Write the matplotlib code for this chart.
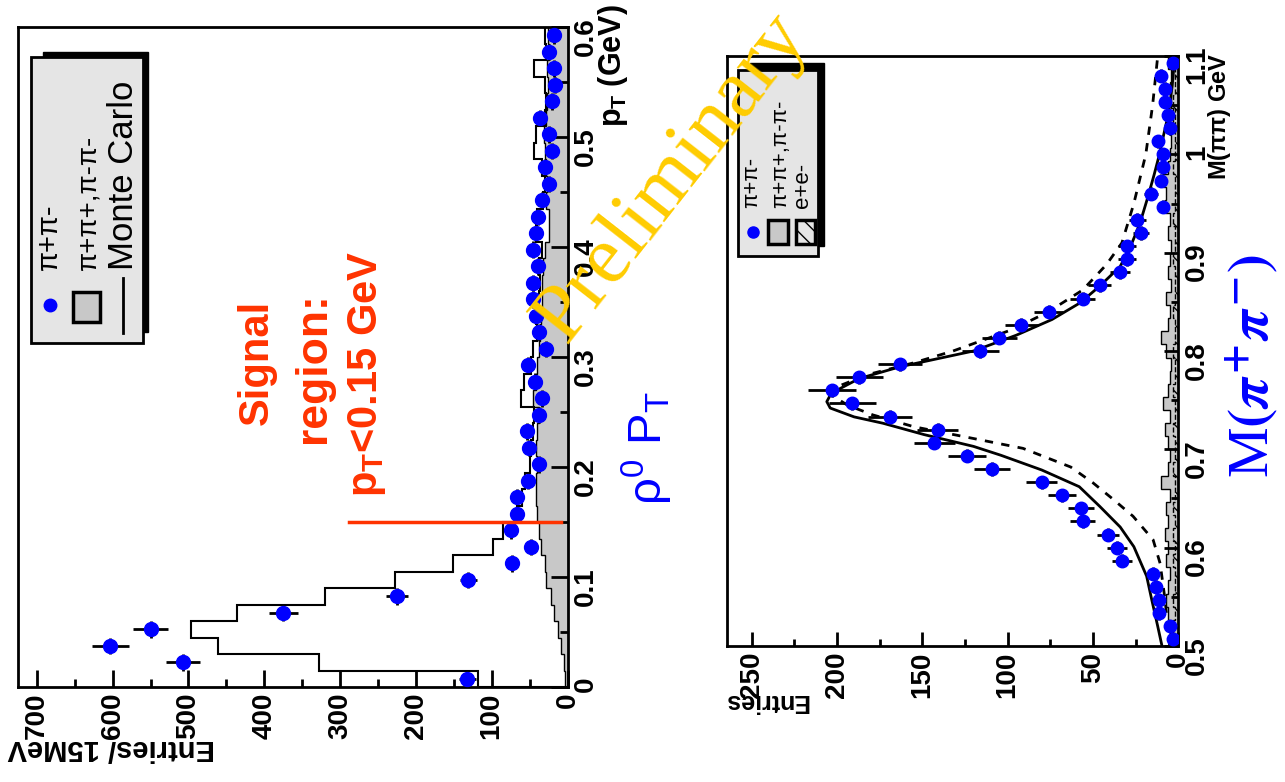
import numpy as np
import matplotlib
matplotlib.use('Agg')
import matplotlib.pyplot as plt
from matplotlib.patches import Rectangle
from matplotlib.lines import Line2D
from matplotlib.ticker import MultipleLocator, FuncFormatter

plt.rcParams['font.family'] = ['Liberation Sans', 'DejaVu Sans']
plt.rcParams['font.weight'] = 'bold'
plt.rcParams['mathtext.fontset'] = 'custom'
plt.rcParams['mathtext.rm'] = 'Liberation Sans:bold'
plt.rcParams['mathtext.it'] = 'Liberation Sans:bold'
plt.rcParams['mathtext.bf'] = 'Liberation Sans:bold'

# the whole slide is turned 90 degrees: entries run right-to-left, pT / mass run upwards
W, H = 1285, 782

# ---- rho0 pT, 15 MeV bins from 0 to 0.6 GeV
pt_lo, pt_bin = 0.0, 0.015
pt_data = [132, 507, 603, 550, 375, 225, 131, 73, 48, 74,
           66, 66, 52, 37, 51, 54, 37, 33, 43, 52,
           28, 37, 41, 46, 46, 39, 46, 41, 39, 33,
           24, 30, 21, 25, 36, 21, 16, 18, 25, 18]
pt_mc = [118, 328, 461, 497, 436, 320, 228, 151, 98, 85,
         66, 60, 56, 50, 48, 45, 44, 62, 58, 48,
         46, 40, 42, 38, 36, 38, 34, 41, 40, 32,
         30, 33, 44, 42, 30, 28, 30, 44, 28, 30]
pt_bkg = [3, 5, 8, 12, 18, 22, 28, 30, 35, 38,
          40, 42, 42, 40, 42, 40, 38, 45, 42, 40,
          38, 36, 35, 34, 33, 32, 30, 24, 25, 28,
          27, 28, 30, 31, 28, 27, 26, 27, 25, 26]
pt_cut = 0.15
pt_cut_span = [8, 288]

# ---- M(pi pi), 45 bins from 0.5 to 1.1 GeV
m_lo, m_bin = 0.5, 0.6 / 45
m_data = [3, 5, 11, 11, 13, 15, 33, 36, 41, 56,
          57, 68, 80, 109, 124, 143, 141, 169, 191, 203,
          187, 163, 116, 105, 92, 76, 56, 46, 34, 30,
          30, 22, 24, 9, 16, 10, 9, 9, 12, 5,
          6, 8, 8, 10, 3]
m_bkg = [4, 5, 6, 7, 6, 5, 7, 6, 8, 6,
         7, 5, 10, 6, 5, 6, 8, 5, 9, 6,
         5, 4, 7, 10, 6, 5, 7, 4, 6, 5,
         4, 6, 5, 8, 7, 9, 6, 5, 4, 5,
         3, 4, 5, 4, 6]
m_ee = [2, 3, 2, 3, 2, 2, 3, 2, 3, 2,
        3, 2, 2, 3, 2, 2, 3, 2, 2, 3,
        2, 2, 3, 2, 2, 3, 2, 2, 2, 3,
        2, 2, 3, 2, 2, 2, 3, 2, 2, 2,
        2, 3, 2, 2, 2]

# fitted line shapes
fit_m = [0.50, 0.52, 0.547, 0.571, 0.601, 0.621, 0.642, 0.662, 0.679, 0.694,
         0.703, 0.715, 0.7265, 0.733, 0.742, 0.7485, 0.755, 0.762, 0.772, 0.784,
         0.80, 0.816, 0.832, 0.849, 0.866, 0.886, 0.906, 0.930, 0.957, 0.98,
         1.0, 1.02, 1.043, 1.07, 1.1]
fit_solid = [9.5, 12, 15.5, 18.5, 26, 34, 46, 58, 80, 104,
             120, 149, 173, 190, 204, 206, 204, 198, 187, 163,
             120, 95, 74, 57.5, 46, 34, 28, 22.4, 17.7, 14,
             11, 8.5, 5.5, 3.5, 2]
dash_m = [0.50, 0.547, 0.584, 0.608, 0.632, 0.649, 0.666, 0.682, 0.701, 0.711,
          0.723, 0.735, 0.745, 0.755, 0.765, 0.776, 0.788, 0.80, 0.822, 0.84,
          0.862, 0.888, 0.91, 0.95, 1.0, 1.05, 1.1]
fit_dashed = [5, 7.7, 10.6, 14.7, 26.5, 38, 50, 63, 91, 120,
              155, 179, 194, 203, 198, 182, 155, 132, 97, 76,
              56, 42, 33, 26, 19, 15, 12]


def fx(px):
    return px / W


def fy(py):
    return 1 - py / H


fig = plt.figure(figsize=(W / 100, H / 100), dpi=100)

fmt = FuncFormatter(lambda v, p: f'{v:g}')


def style_axes(ax, xmaj, xmin, ymaj, ymin, lmaj, lmin):
    ax.xaxis.set_major_locator(MultipleLocator(xmaj))
    ax.xaxis.set_minor_locator(MultipleLocator(xmin))
    ax.yaxis.set_major_locator(MultipleLocator(ymaj))
    ax.yaxis.set_minor_locator(MultipleLocator(ymin))
    ax.xaxis.set_major_formatter(fmt)
    ax.yaxis.set_major_formatter(fmt)
    ax.yaxis.tick_right()
    ax.tick_params(which='both', direction='in', width=2, top=False, left=False,
                   bottom=True, right=True, labelsize=20, pad=4)
    ax.tick_params(which='major', length=lmaj)
    ax.tick_params(which='minor', length=lmin)
    ax.tick_params(axis='both', labelrotation=90)
    for s in ax.spines.values():
        s.set_linewidth(2)


# ---------------- left panel
axL = fig.add_axes([fx(18.3), fy(687), fx(567.5) - fx(18.3), fy(27) - fy(687)])
pt_edges = pt_lo + pt_bin * np.arange(len(pt_data) + 1)
pt_mid = pt_edges[:-1] + pt_bin / 2

axL.stairs(pt_bkg, pt_edges, orientation='horizontal', fill=True,
           facecolor='#c8c8c8', edgecolor='black', lw=1, zorder=1)
axL.stairs(pt_mc, pt_edges, orientation='horizontal', color='black', lw=1.5, zorder=2)
axL.errorbar(pt_data, pt_mid, xerr=np.sqrt(pt_data), yerr=pt_bin / 2, fmt='o',
             color='blue', ecolor='black', elinewidth=2, ms=10, capsize=0, zorder=3)
axL.plot(pt_cut_span, [pt_cut, pt_cut], color='#ff3300', lw=2.5, zorder=4)
axL.set_xlim(724.5, 0)
axL.set_ylim(0, 0.6)
style_axes(axL, 100, 50, 0.1, 0.05, 12, 6)

# ---------------- right panel
axR = fig.add_axes([fx(727), fy(646), fx(1178.2) - fx(727), fy(56) - fy(646)])
m_edges = m_lo + m_bin * np.arange(len(m_data) + 1)
m_mid = m_edges[:-1] + m_bin / 2

axR.stairs(m_bkg, m_edges, orientation='horizontal', fill=True,
           facecolor='#c8c8c8', edgecolor='black', lw=1, zorder=1)
axR.stairs(m_ee, m_edges, orientation='horizontal', fill=False, hatch='\\\\',
           edgecolor='black', lw=1, ls='--', zorder=1)
axR.plot(fit_solid, fit_m, color='black', lw=2, zorder=2)
axR.plot(fit_dashed, dash_m, color='black', lw=2, ls=(0, (3, 3)), zorder=2)
axR.errorbar(m_data, m_mid, xerr=np.sqrt(m_data), yerr=m_bin / 2, fmt='o',
             color='blue', ecolor='black', elinewidth=2, ms=9, capsize=0, zorder=3)
axR.set_xlim(264.5, 0)
axR.set_ylim(0.5, 1.1)
style_axes(axR, 50, 25, 0.1, 0.05, 10, 5)

# ---------------- axis titles
fig.text(fx(621), fy(4), r'$p_T$ (GeV)', rotation=90, rotation_mode='anchor',
         ha='right', va='baseline', fontsize=22)
fig.text(fx(1226), fy(53), r'M($\pi\pi$) GeV', rotation=90, rotation_mode='anchor',
         ha='right', va='baseline', fontsize=17)
fig.text(fx(215), fy(740), 'Entries/ 15MeV', rotation=180, rotation_mode='anchor',
         ha='left', va='baseline', fontsize=21)
fig.text(fx(808), fy(694), 'Entries', rotation=180, rotation_mode='anchor',
         ha='left', va='baseline', fontsize=18)

# ---------------- legends


def legend_box(x0, y0, x1, y1, sx0, sy0, sx1, sy1):
    fig.add_artist(Rectangle((fx(sx0), fy(sy1)), fx(sx1) - fx(sx0), fy(sy0) - fy(sy1),
                             transform=fig.transFigure, facecolor='black',
                             edgecolor='black', zorder=5))
    fig.add_artist(Rectangle((fx(x0), fy(y1)), fx(x1) - fx(x0), fy(y0) - fy(y1),
                             transform=fig.transFigure, facecolor='#e5e5e5',
                             edgecolor='black', lw=2, zorder=6))


def swatch(x0, y0, x1, y1, hatch=None):
    fig.add_artist(Rectangle((fx(x0), fy(y1)), fx(x1) - fx(x0), fy(y0) - fy(y1),
                             transform=fig.transFigure,
                             facecolor='#c8c8c8' if hatch is None else '#e5e5e5',
                             hatch=hatch, edgecolor='black', lw=2.5, zorder=7))


def legend_text(px, py, s, size):
    fig.text(fx(px), fy(py), s, rotation=90, rotation_mode='anchor', ha='left',
             va='baseline', fontsize=size, fontweight='normal', zorder=8)


legend_box(31, 57, 143, 343, 43, 52, 148, 332)
fig.add_artist(Line2D([fx(50)], [fy(305)], marker='o', color='blue', ms=9,
                      transform=fig.transFigure, zorder=8))
swatch(73, 292, 100, 322)
fig.add_artist(Line2D([fx(123), fx(123)], [fy(278), fy(333)], color='black', lw=2,
                      transform=fig.transFigure, zorder=8))
legend_text(57, 270, 'π+π-', 21)
legend_text(95, 270, 'π+π+,π-π-', 20)
legend_text(133, 270, 'Monte Carlo', 25)

legend_box(738, 70, 818, 256, 750, 63, 824, 246)
fig.add_artist(Line2D([fx(753)], [fy(232)], marker='o', color='blue', ms=8,
                      transform=fig.transFigure, zorder=8))
swatch(768, 220, 788, 244)
swatch(796, 220, 815, 244, hatch='\\\\')
legend_text(757, 208, 'π+π-', 16)
legend_text(786, 208, 'π+π+,π-π-', 16)
legend_text(808, 208, 'e+e-', 16)

# ---------------- annotations
red = '#ff3300'
fig.text(fx(268), fy(425), 'Signal', rotation=90, rotation_mode='anchor',
         ha='left', va='baseline', fontsize=30, color=red)
fig.text(fx(325), fy(443), 'region:', rotation=90, rotation_mode='anchor',
         ha='left', va='baseline', fontsize=32, color=red)
fig.text(fx(377), fy(497), r'$p_T$<0.15 GeV', rotation=90, rotation_mode='anchor',
         ha='left', va='baseline', fontsize=30, color=red)

fig.text(fx(662), fy(505), r'$\mathregular{\rho^0\ P_T}$', rotation=90,
         rotation_mode='anchor', ha='left', va='baseline', fontsize=34,
         color='blue', fontweight='normal')
fig.text(fx(1268), fy(478), r'M$(\pi^{+}\pi^{-})$', rotation=90, rotation_mode='anchor',
         ha='left', va='baseline', fontsize=41, color='blue', fontweight='normal',
         family='Liberation Serif', math_fontfamily='stix')
fig.text(fx(672), fy(178), 'Preliminary', rotation=52, rotation_mode='anchor',
         ha='center', va='center', fontsize=60, color='#ffcc00',
         family='Liberation Serif', fontweight='normal', zorder=10)

fig.savefig('out.png', dpi=100, facecolor='white')
